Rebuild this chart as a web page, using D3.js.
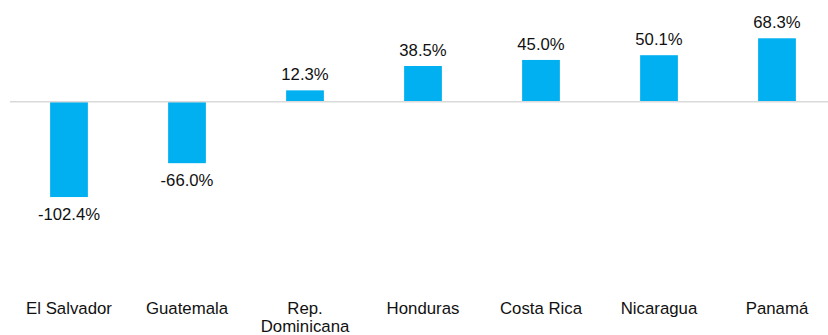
<!DOCTYPE html>
<html>
<head>
<meta charset="utf-8">
<script src="https://cdn.jsdelivr.net/npm/d3@7"></script>
<style>
  html, body { margin: 0; padding: 0; background: #fff; }
  svg { display: block; }
  text { font-family: Arial, "Liberation Sans", sans-serif; fill: #111; }
</style>
</head>
<body>
<svg id="chart" width="828" height="335"></svg>
<script>
// Variación por país (%)
const categories = ["El Salvador", "Guatemala", "Rep. Dominicana", "Honduras", "Costa Rica", "Nicaragua", "Panamá"];
const categoryLines = [["El Salvador"], ["Guatemala"], ["Rep.", "Dominicana"], ["Honduras"], ["Costa Rica"], ["Nicaragua"], ["Panamá"]];
const values = [-102.4, -66.0, 12.3, 38.5, 45.0, 50.1, 68.3];
const valueLabels = ["-102.4%", "-66.0%", "12.3%", "38.5%", "45.0%", "50.1%", "68.3%"];

const W = 828, H = 335;
const svg = d3.select("#chart");

const x = d3.scaleBand()
  .domain(categories)
  .range([10, 836])
  .paddingInner(0.68)
  .paddingOuter(0.34);

const y = d3.scaleLinear()
  .domain([-110, 110])
  .range([204.1, -0.5]);

const data = categories.map((c, i) => ({ c, v: values[i], label: valueLabels[i], lines: categoryLines[i] }));

// bars
svg.append("g")
  .selectAll("rect")
  .data(data)
  .join("rect")
  .attr("x", d => x(d.c))
  .attr("width", x.bandwidth())
  .attr("y", d => y(Math.max(0, d.v)))
  .attr("height", d => Math.abs(y(d.v) - y(0)))
  .attr("fill", "#00b0f0");

// zero baseline
svg.append("line")
  .attr("x1", 10).attr("x2", W)
  .attr("y1", y(0)).attr("y2", y(0))
  .attr("stroke", "#d9d9d9")
  .attr("stroke-width", 1.5);

// value labels
svg.append("g")
  .selectAll("text")
  .data(data)
  .join("text")
  .attr("x", d => x(d.c) + x.bandwidth() / 2)
  .attr("y", d => d.v >= 0 ? y(d.v) - 10 : y(d.v) + 23)
  .attr("text-anchor", "middle")
  .attr("font-size", 16.7)
  .text(d => d.label);

// category labels (one text element per line)
const catLines = data.flatMap(d => d.lines.map((t, i) => ({ t, i, cx: x(d.c) + x.bandwidth() / 2 })));
svg.append("g")
  .selectAll("text")
  .data(catLines)
  .join("text")
  .attr("x", t => t.cx)
  .attr("y", t => 313.5 + t.i * 18)
  .attr("text-anchor", "middle")
  .attr("font-size", 16.8)
  .text(t => t.t);
</script>
</body>
</html>
